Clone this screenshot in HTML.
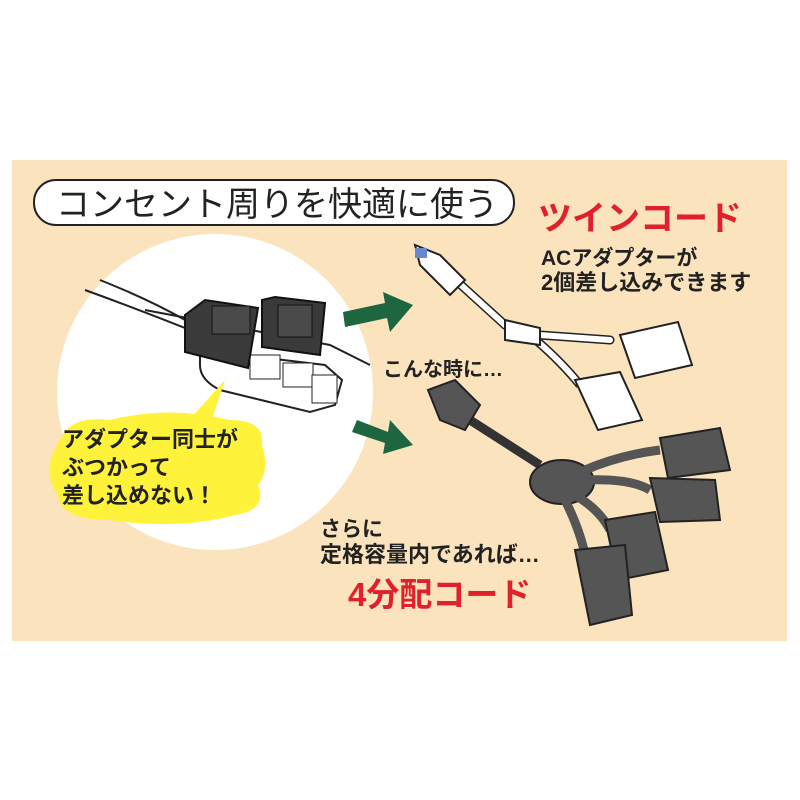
<!DOCTYPE html>
<html><head><meta charset="utf-8"><style>
html,body{margin:0;padding:0;background:#fff;}
svg{display:block}
text{font-family:"Liberation Sans","Noto Sans CJK JP",sans-serif;font-weight:bold;}
</style></head><body>
<svg width="800" height="800" viewBox="0 0 800 800" xmlns="http://www.w3.org/2000/svg">
<rect x="0" y="0" width="800" height="800" fill="#fff"/>
<rect x="12" y="160" width="775" height="481" fill="#fbe4bd"/>
<circle cx="215" cy="392" r="158" fill="#fff"/>
<rect x="34" y="180" width="480" height="45" rx="22" fill="#fff" stroke="#222" stroke-width="2"/>
<text x="56" y="216" font-size="34" fill="#222" style="font-weight:normal">コンセント周りを快適に使う</text>
<!-- power strip -->
<path d="M85 290 Q140 310 190 330" stroke="#222" stroke-width="2" fill="none"/>
<path d="M100 280 Q150 300 185 320" stroke="#222" stroke-width="2" fill="none"/>
<path d="M200 350 L325 365 L342 380 L335 405 L310 412 L220 390 Q200 380 200 365 Z" fill="#fff" stroke="#222" stroke-width="2"/>
<rect x="250" y="355" width="30" height="24" fill="#fff" stroke="#222"/>
<rect x="283" y="363" width="30" height="24" fill="#fff" stroke="#222"/>
<rect x="312" y="375" width="25" height="28" fill="#fff" stroke="#222"/>
<path d="M145 310 L330 345 L370 365" stroke="#222" stroke-width="2" fill="none"/>
<path d="M185 315 L205 300 L258 308 L248 368 L185 352 Z" fill="#3a3a3a" stroke="#111" stroke-width="2"/>
<rect x="212" y="306" width="38" height="28" fill="#4a4a4a" stroke="#111"/>
<path d="M262 300 L275 297 L325 303 L320 355 L262 347 Z" fill="#3a3a3a" stroke="#111" stroke-width="2"/>
<rect x="278" y="305" width="34" height="32" fill="#4a4a4a" stroke="#111"/>
<!-- speech bubble -->
<path d="M225 380 L205 440 L180 430 Z" fill="#fff23a"/>
<path d="M60 440 Q70 415 110 420 Q170 405 230 420 Q265 420 262 445 Q270 470 258 485 Q268 510 235 515 Q180 530 110 520 Q60 520 58 495 Q40 470 60 440 Z" fill="#fff23a"/>
<text x="62" y="447" font-size="22" fill="#222">アダプター同士が</text>
<text x="62" y="475" font-size="22" fill="#222">ぶつかって</text>
<text x="62" y="503" font-size="22" fill="#222">差し込めない！</text>
<polygon points="343,312 385,303 383,292 413,305 390,332 387,318 345,327" fill="#1e6640"/>
<polygon points="357,420 388,432 390,420 413,445 383,454 385,443 352,432" fill="#1e6640"/>
<!-- twin -->
<text x="538" y="230" font-size="34" fill="#e0202b">ツインコード</text>
<text x="541" y="265" font-size="21" fill="#222">ACアダプターが</text>
<text x="541" y="290" font-size="22" fill="#222">2個差し込みできます</text>
<path d="M450 275 L505 325 L540 335 L610 340" stroke="#222" stroke-width="9" fill="none" stroke-linecap="round"/>
<path d="M450 275 L505 325 L540 335 L610 340" stroke="#fff" stroke-width="6" fill="none" stroke-linecap="round"/>
<path d="M530 335 Q560 360 580 385" stroke="#222" stroke-width="9" fill="none"/>
<path d="M530 335 Q560 360 580 385" stroke="#fff" stroke-width="6" fill="none"/>
<path d="M415 245 L440 255 L465 280 L450 295 L420 265 Z" fill="#fff" stroke="#222" stroke-width="2"/>
<rect x="415" y="248" width="12" height="10" fill="#6688cc"/>
<path d="M505 320 L540 328 L540 345 L505 340 Z" fill="#fff" stroke="#222" stroke-width="2"/>
<path d="M620 335 L678 322 L692 365 L635 378 Z" fill="#fff" stroke="#222" stroke-width="2"/>
<path d="M575 380 L620 372 L642 420 L598 430 Z" fill="#fff" stroke="#222" stroke-width="2"/>
<text x="383" y="376" font-size="20" fill="#222">こんな時に…</text>
<!-- 4-way -->
<path d="M440 400 L470 420 L540 465" stroke="#333" stroke-width="9" fill="none"/>
<path d="M428 390 L455 380 L480 405 L465 430 L440 420 Z" fill="#555" stroke="#222" stroke-width="2"/>
<ellipse cx="562" cy="482" rx="32" ry="22" fill="#555" stroke="#222" stroke-width="2"/>
<path d="M585 470 Q620 455 660 450 M585 480 Q630 478 650 490 M575 495 Q600 510 610 530 M565 500 Q580 530 585 555" stroke="#555" stroke-width="9" fill="none"/>
<path d="M660 438 L720 428 L730 470 L668 478 Z" fill="#555" stroke="#222" stroke-width="2"/>
<path d="M650 478 L715 480 L720 520 L660 522 Z" fill="#555" stroke="#222" stroke-width="2"/>
<path d="M605 520 L655 512 L668 570 L618 580 Z" fill="#555" stroke="#222" stroke-width="2"/>
<path d="M575 550 L625 545 L632 615 L590 625 Z" fill="#555" stroke="#222" stroke-width="2"/>
<text x="320" y="536" font-size="21" fill="#222">さらに</text>
<text x="320" y="562" font-size="22" fill="#222">定格容量内であれば…</text>
<text x="348" y="606" font-size="33" fill="#e0202b">4分配コード</text>
</svg>
</body></html>
